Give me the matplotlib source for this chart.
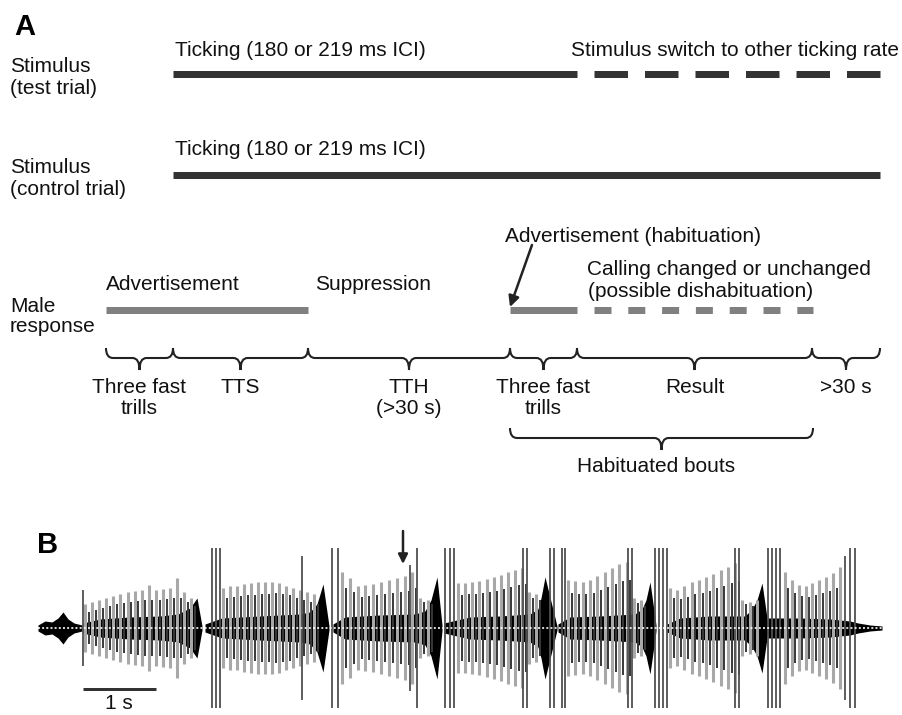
import numpy as np
import matplotlib.pyplot as plt
from matplotlib.path import Path
from matplotlib.patches import PathPatch

plt.rcParams['font.family'] = ['Liberation Sans', 'DejaVu Sans']
plt.rcParams['lines.scale_dashes'] = False

PX = 0.72  # points per pixel (dpi 100)
FS = 15

# ---------- panel A: schematic timeline (x in px) ----------
test_solid = [173, 577]
test_dash = [594, 880]
control_solid = [173, 880]
adv_solid = [106, 308]
hab_solid = [510, 577]
hab_dash = [594, 813]

brace_edges = [106, 173, 308, 510, 577, 812, 880]
brace_line1 = ["Three fast", "TTS", "TTH", "Three fast", "Result", ">30 s"]
brace_line2 = ["trills", "", "(>30 s)", "trills", "", ""]
habituated_span = [510, 813]

# ---------- panel B: oscillogram (x in px, amplitude in px) ----------
bout_start = [85, 223, 342, 458, 568, 670, 785]
bout_end = [195, 318, 432, 540, 645, 757, 840]
bout_pulses = [
    [24, 16, 26, 18, 28, 20, 30, 22, 32, 24, 34, 25, 36, 26, 37, 27,
     38, 28, 43, 28, 38, 28, 39, 29, 40, 30, 50, 30, 36, 26, 30, 22],
    [40, 30, 42, 31, 42, 32, 44, 33, 45, 33, 46, 34, 46, 34, 46, 35,
     45, 34, 42, 33, 40, 30, 38, 28, 36, 26, 34, 24],
    [56, 40, 50, 36, 42, 31, 43, 32, 44, 33, 46, 34, 48, 35, 50, 36,
     52, 37, 56, 40, 30, 26, 28, 24],
    [45, 33, 45, 34, 46, 34, 47, 35, 49, 36, 51, 37, 53, 39, 56, 41,
     58, 43, 60, 44, 36, 30, 34, 28],
    [48, 35, 47, 34, 46, 34, 48, 35, 52, 38, 56, 41, 60, 44, 64, 47,
     66, 48, 30, 25, 28, 22],
    [40, 30, 38, 29, 42, 31, 46, 34, 48, 35, 51, 37, 54, 40, 58, 42,
     61, 45, 65, 47, 28, 24, 26, 22, 28],
    [56, 40, 48, 35, 43, 32, 42, 31, 45, 33, 48, 35, 51, 37, 55, 40, 61],
]
core_x = [
    [38, 45, 52, 58, 63, 68, 74, 82],
    [83, 100, 130, 160, 178, 190, 197, 202],
    [205, 222, 260, 300, 310, 317, 323, 329],
    [333, 345, 380, 415, 425, 431, 437, 442],
    [444, 470, 500, 530, 538, 541, 545, 557],
    [558, 570, 600, 635, 642, 646, 650, 656],
    [667, 680, 710, 745, 752, 757, 762, 768],
    [768, 800, 830, 850, 858, 870, 882],
]
core_h = [
    [3, 7, 6, 10, 16, 9, 5, 3],
    [5, 9, 11, 12, 14, 20, 30, 2],
    [4, 10, 12, 14, 16, 24, 44, 2],
    [4, 11, 13, 14, 17, 28, 51, 3],
    [5, 11, 12, 14, 19, 30, 51, 2],
    [4, 11, 12, 14, 19, 28, 46, 3],
    [4, 10, 12, 12, 19, 28, 45, 3],
    [10, 10, 9, 7, 5, 3, 2],
]
loud_x = [83, 212, 216, 220, 302, 332, 338, 410, 417, 445, 450, 454,
          523, 527, 550, 554, 562, 565, 628, 632, 655, 659, 663, 667,
          735, 739, 768, 772, 776, 780, 845, 850, 855]
loud_h = [38, 80, 80, 80, 72, 80, 80, 63, 80, 80, 80, 80,
          80, 80, 80, 80, 80, 80, 80, 80, 80, 80, 80, 80,
          80, 80, 80, 80, 80, 80, 72, 80, 80]
BASE = 628


def brace(ax, x0, x1, yt, yl, ytip, r=7):
    xc = (x0 + x1) / 2
    verts = [(x0, yt), (x0, yl), (x0 + r, yl),
             (xc - r, yl),
             (xc, yl), (xc, ytip),
             (xc, yl), (xc + r, yl),
             (x1 - r, yl),
             (x1, yl), (x1, yt)]
    codes = [Path.MOVETO, Path.CURVE3, Path.CURVE3,
             Path.LINETO,
             Path.CURVE3, Path.CURVE3,
             Path.CURVE3, Path.CURVE3,
             Path.LINETO,
             Path.CURVE3, Path.CURVE3]
    ax.add_patch(PathPatch(Path(verts, codes), fill=False, lw=1.5, ec='#222222'))


def txt(x, y, s, **kw):
    ax.text(x, y, s, fontsize=FS, va='baseline', color='#111111', **kw)


fig = plt.figure(figsize=(9.03, 7.15), dpi=100)
ax = fig.add_axes([0, 0, 1, 1])
ax.set_xlim(0, 903)
ax.set_ylim(715, 0)
ax.axis('off')

# panel A
ax.text(14, 35, "A", fontsize=21, fontweight='bold', va='baseline')
txt(10, 72.5, "Stimulus")
txt(10, 94, "(test trial)")
txt(175, 56, "Ticking (180 or 219 ms ICI)")
txt(571, 56, "Stimulus switch to other ticking rate")
ax.plot(test_solid, [73.5, 73.5], color='#333333', lw=7 * PX, solid_capstyle='butt')
ax.plot(test_dash, [73.5, 73.5], color='#333333', lw=7 * PX, dash_capstyle='butt',
        linestyle=(0, (33.5 * PX, 17 * PX)))

txt(10, 173, "Stimulus")
txt(10, 195, "(control trial)")
txt(175, 155, "Ticking (180 or 219 ms ICI)")
ax.plot(control_solid, [174.5, 174.5], color='#333333', lw=7 * PX, solid_capstyle='butt')

txt(10, 311.5, "Male")
txt(10, 332, "response")
txt(106, 290, "Advertisement")
txt(315, 290, "Suppression")
txt(505, 242, "Advertisement (habituation)")
txt(587, 275, "Calling changed or unchanged")
txt(588, 297, "(possible dishabituation)")
ax.plot(adv_solid, [309.5, 309.5], color='#808080', lw=7 * PX, solid_capstyle='butt')
ax.plot(hab_solid, [309.5, 309.5], color='#808080', lw=7 * PX, solid_capstyle='butt')
ax.plot(hab_dash, [309.5, 309.5], color='#808080', lw=7 * PX, dash_capstyle='butt',
        linestyle=(0, (17 * PX, 16.8 * PX)))
ax.annotate('', xy=(510, 307), xytext=(532, 245),
            arrowprops=dict(arrowstyle='-|>', lw=1.8, color='#222222',
                            mutation_scale=16, shrinkA=0, shrinkB=0))

for i in range(len(brace_edges) - 1):
    x0, x1 = brace_edges[i], brace_edges[i + 1]
    brace(ax, x0, x1, 348, 358, 370)
    xc = (x0 + x1) / 2
    txt(xc, 393, brace_line1[i], ha='center')
    if brace_line2[i]:
        txt(xc, 414, brace_line2[i], ha='center')
brace(ax, habituated_span[0], habituated_span[1], 428, 438, 450)
txt(656, 472, "Habituated bouts", ha='center')

# panel B
ax.text(37, 553, "B", fontsize=21, fontweight='bold', va='baseline')
for x0, x1, p in zip(bout_start, bout_end, bout_pulses):
    p = np.array(p, dtype=float)
    xs = np.linspace(x0, x1, len(p))
    ax.vlines(xs[0::2], BASE - p[0::2], BASE + p[0::2], color='#a8a8a8', lw=2.2)
    ax.vlines(xs[1::2], BASE - p[1::2], BASE + p[1::2], color='#383838', lw=1.4)
ax.vlines(loud_x, BASE - np.array(loud_h), BASE + np.array(loud_h), color='#505050', lw=1.3)
for cx, ch in zip(core_x, core_h):
    ch = np.array(ch, dtype=float)
    ax.fill_between(cx, BASE - ch, BASE + ch, color='black', lw=0)
ax.plot([38, 885], [BASE, BASE], color='white', lw=1.2, linestyle=(0, (1.4, 1.6)))
ax.annotate('', xy=(403, 564), xytext=(403, 531),
            arrowprops=dict(arrowstyle='-|>', lw=1.8, color='#222222',
                            mutation_scale=14, shrinkA=0, shrinkB=0))
ax.plot([83, 156], [689, 689], color='#333333', lw=3 * PX, solid_capstyle='butt')
txt(119, 709, "1 s", ha='center')

fig.savefig("out.png", dpi=100)
